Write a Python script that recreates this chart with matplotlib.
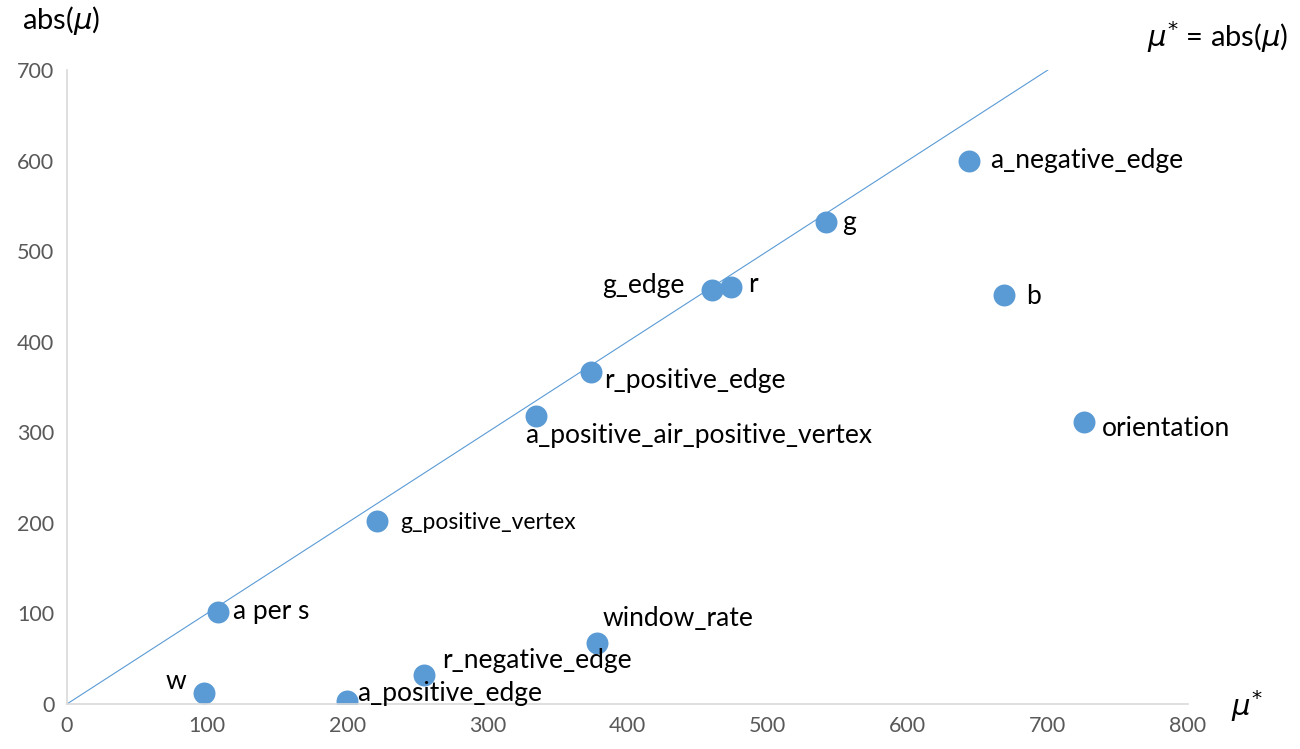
import matplotlib
matplotlib.use("Agg")
import matplotlib.pyplot as plt

# valores
nombres = ["a_negative_edge", "g", "g_edge", "r", "b", "r_positive_edge",
           "a_positive_air_positive_vertex", "orientation", "g_positive_vertex",
           "a per s", "window_rate", "r_negative_edge", "w", "a_positive_edge"]
mu_star = [644, 542, 460, 474, 669, 374, 335, 726, 221, 108, 378, 255, 98, 200]
abs_mu = [600, 532, 457, 460, 452, 367, 318, 311, 202, 102, 67, 32, 12, 3]

linea_x = [0, 700]
linea_y = [0, 700]

x_ticks = [0, 100, 200, 300, 400, 500, 600, 700, 800]
y_ticks = [0, 100, 200, 300, 400, 500, 600, 700]

# desplazamiento de etiquetas en pixeles (dx, dy, alineacion)
desplaz = [(21, 0, "left"), (16, 0, "left"), (-27, 5, "right"), (17, 3, "left"),
           (22, -2, "left"), (13, -9, "left"), (-11, -20, "left"), (18, -6, "left"),
           (24, -1, "left"), (15, 0, "left"), (6, 25, "left"), (18, 15, "left"),
           (-18, 12, "right"), (10, 8, "left")]

plt.rcParams["font.family"] = ["Lato", "DejaVu Sans"]
azul = "#5B9BD5"
gris = "#D9D9D9"

fig = plt.figure(figsize=(13, 7.49), dpi=100)
ax = fig.add_axes([0.0515, 0.0601, 0.8623, 0.8464])

ax.plot(linea_x, linea_y, color=azul, lw=0.8, zorder=1)
ax.scatter(mu_star, abs_mu, s=250, color=azul, zorder=2, linewidths=0)

for nombre, x, y, (dx, dy, ha) in zip(nombres, mu_star, abs_mu, desplaz):
    tam = 16.5 if nombre == "g_positive_vertex" else 19
    ax.annotate(nombre, (x, y), xytext=(dx, dy), textcoords="offset pixels",
                ha=ha, va="center", fontsize=tam, color="black")

ax.set_xlim(0, 800)
ax.set_ylim(0, 700)
ax.set_xticks(x_ticks)
ax.set_yticks(y_ticks)
ax.tick_params(length=0, labelsize=15.5, labelcolor="#595959", pad=9)

for lado in ["top", "right"]:
    ax.spines[lado].set_visible(False)
ax.spines["left"].set_color(gris)
ax.spines["bottom"].set_color(gris)
ax.spines["left"].set_linewidth(1.2)
ax.spines["bottom"].set_linewidth(1.2)

fig.text(0.017, 0.972, r"abs($\mu$)", fontsize=21, va="center", ha="left")
fig.text(0.991, 0.950, r"$\mu^{*}$ = abs($\mu$)", fontsize=21, va="center", ha="right")
fig.text(0.947, 0.058, r"$\mu^{*}$", fontsize=21, va="center", ha="left")

fig.savefig("out.png", dpi=100)
